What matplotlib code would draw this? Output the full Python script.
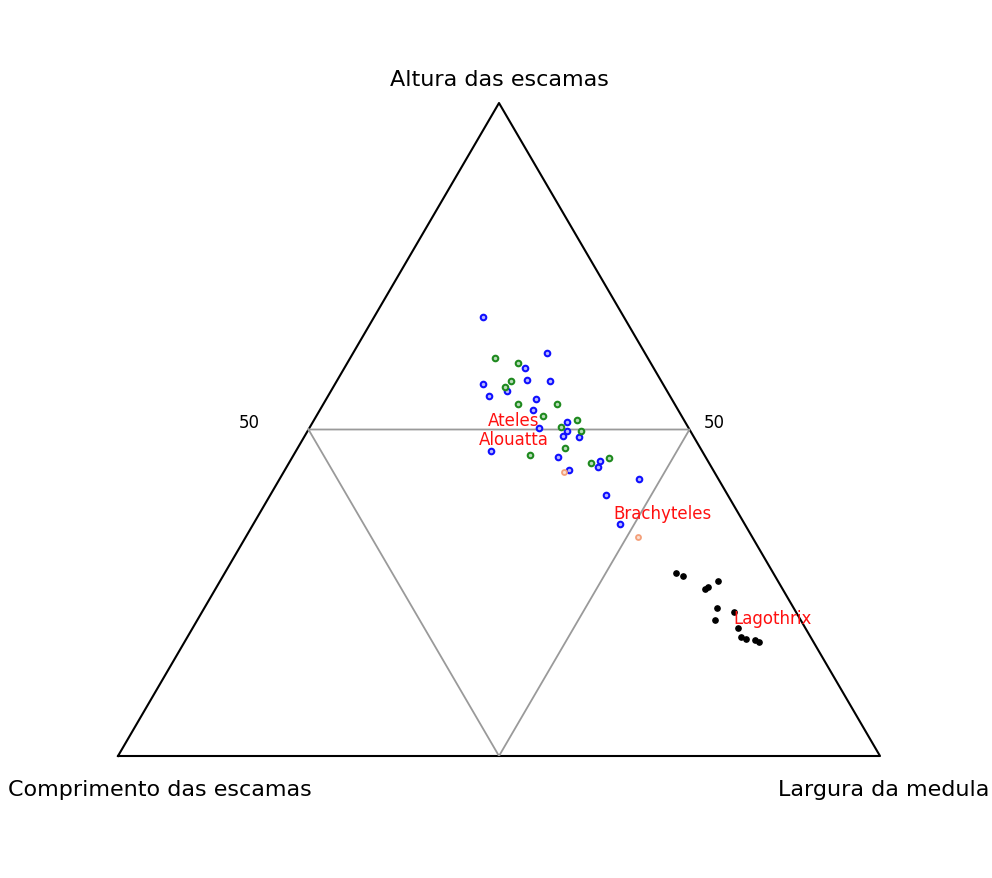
import matplotlib
matplotlib.use('Agg')
import matplotlib.pyplot as plt
import numpy as np

# ------------------------------------------------------------
# Composições (%) : Altura, Comprimento, Largura
# ------------------------------------------------------------
# Alouatta (azul)
alt_blue = [67.3, 61.7, 59.4, 57.6, 57.4, 57.0, 55.2, 55.9, 54.7, 53.0, 50.2, 51.1,
            49.7, 49.0, 48.9, 46.7, 45.8, 45.1, 44.2, 43.8, 42.4, 39.9, 35.5]
lar_blue = [14.3, 25.5, 23.7, 24.9, 28.0, 19.4, 21.1, 23.1, 27.5, 27.9, 30.2, 33.4,
            34.1, 33.9, 36.1, 25.6, 34.8, 40.7, 40.9, 37.3, 47.2, 44.1, 48.1]
comp_blue = [18.4, 12.8, 16.9, 17.5, 14.6, 23.6, 23.7, 21.0, 17.8, 19.1, 19.6, 15.5,
             16.2, 17.1, 15.0, 27.7, 19.4, 14.2, 14.9, 18.9, 10.4, 16.0, 16.4]

# Ateles (verde)
alt_green = [61.0, 60.2, 57.5, 56.5, 53.9, 53.9, 52.1, 51.4, 50.4, 49.8, 47.2, 46.1, 45.6, 44.8]
lar_green = [19.0, 22.4, 22.8, 22.6, 25.5, 30.6, 29.7, 34.5, 32.9, 35.8, 35.1, 31.0, 41.7, 39.7]
comp_green = [20.0, 17.4, 19.7, 20.9, 20.6, 15.5, 18.2, 14.1, 16.7, 14.4, 17.7, 22.9, 12.7, 15.5]

# Brachyteles (laranja)
alt_orange = [43.5, 33.6]
lar_orange = [36.8, 51.5]
comp_orange = [19.7, 14.9]

# Lagothrix (preto)
alt_black = [28.0, 27.6, 26.8, 25.6, 25.9, 22.7, 20.9, 22.0, 19.6, 18.3, 17.9, 17.7, 17.5]
lar_black = [59.2, 60.4, 65.3, 64.2, 64.5, 67.2, 67.9, 69.8, 71.5, 72.6, 73.5, 74.8, 75.4]
comp_black = [12.8, 12.0, 7.9, 10.2, 9.6, 10.1, 11.2, 8.2, 8.9, 9.1, 8.6, 7.5, 7.1]

# Rótulos dos gêneros (posição em composição)
genus_names = ['Ateles', 'Alouatta', 'Brachyteles', 'Lagothrix']
genus_alt = [51.5, 48.5, 37.2, 21.1]
genus_lar = [26.2, 27.7, 52.8, 75.3]

vertex_names = ['Altura das escamas', 'Comprimento das escamas', 'Largura da medula']

H = np.sqrt(3) / 2


def tern(alt, comp, lar):
    alt = np.asarray(alt, float)
    comp = np.asarray(comp, float)
    lar = np.asarray(lar, float)
    tot = alt + comp + lar
    a = alt / tot
    c = lar / tot
    return c + a / 2, a * H


fig = plt.figure(figsize=(9.92, 8.79), dpi=100)
ax = fig.add_axes([118 / 992, 122 / 879, 762 / 992, 653 / 879])
ax.set_xlim(0, 1)
ax.set_ylim(0, H)
ax.axis('off')

# triângulo externo
ax.plot([0, 1, 0.5, 0], [0, 0, H, 0], color='black', lw=1.5, clip_on=False)
# linhas de 50 %
ax.plot([0.25, 0.75, 0.5, 0.25], [H / 2, H / 2, 0, H / 2], color='#9a9a9a', lw=1.3)

ax.text(0.172, 0.443, '50', fontsize=12, ha='center', va='center')
ax.text(0.783, 0.443, '50', fontsize=12, ha='center', va='center')

# pontos
x, y = tern(alt_blue, comp_blue, lar_blue)
ax.plot(x, y, 'o', ms=4.0, mfc='#b8b8ff', mec='#1010ff', mew=1.5, ls='none')
x, y = tern(alt_green, comp_green, lar_green)
ax.plot(x, y, 'o', ms=4.0, mfc='#b8dcb8', mec='#1f8a1f', mew=1.5, ls='none')
x, y = tern(alt_orange, comp_orange, lar_orange)
ax.plot(x, y, 'o', ms=3.6, mfc='#fbe0d2', mec='#f4a07a', mew=1.3, ls='none')
x, y = tern(alt_black, comp_black, lar_black)
ax.plot(x, y, 'o', ms=3.8, color='black', ls='none')

# nomes dos gêneros
gx, gy = tern(genus_alt, 100 - np.array(genus_alt) - np.array(genus_lar), genus_lar)
for name, tx, ty in zip(genus_names, gx, gy):
    ax.text(tx, ty, name, color='#ff1010', fontsize=12, ha='center', va='center', clip_on=False)

# vértices
ax.text(0.5, H + 0.032, vertex_names[0], fontsize=16, ha='center', va='center')
ax.text(0.055, -0.044, vertex_names[1], fontsize=16, ha='center', va='center')
ax.text(1.005, -0.044, vertex_names[2], fontsize=16, ha='center', va='center')

fig.savefig('out.png', dpi=100, facecolor='white')
